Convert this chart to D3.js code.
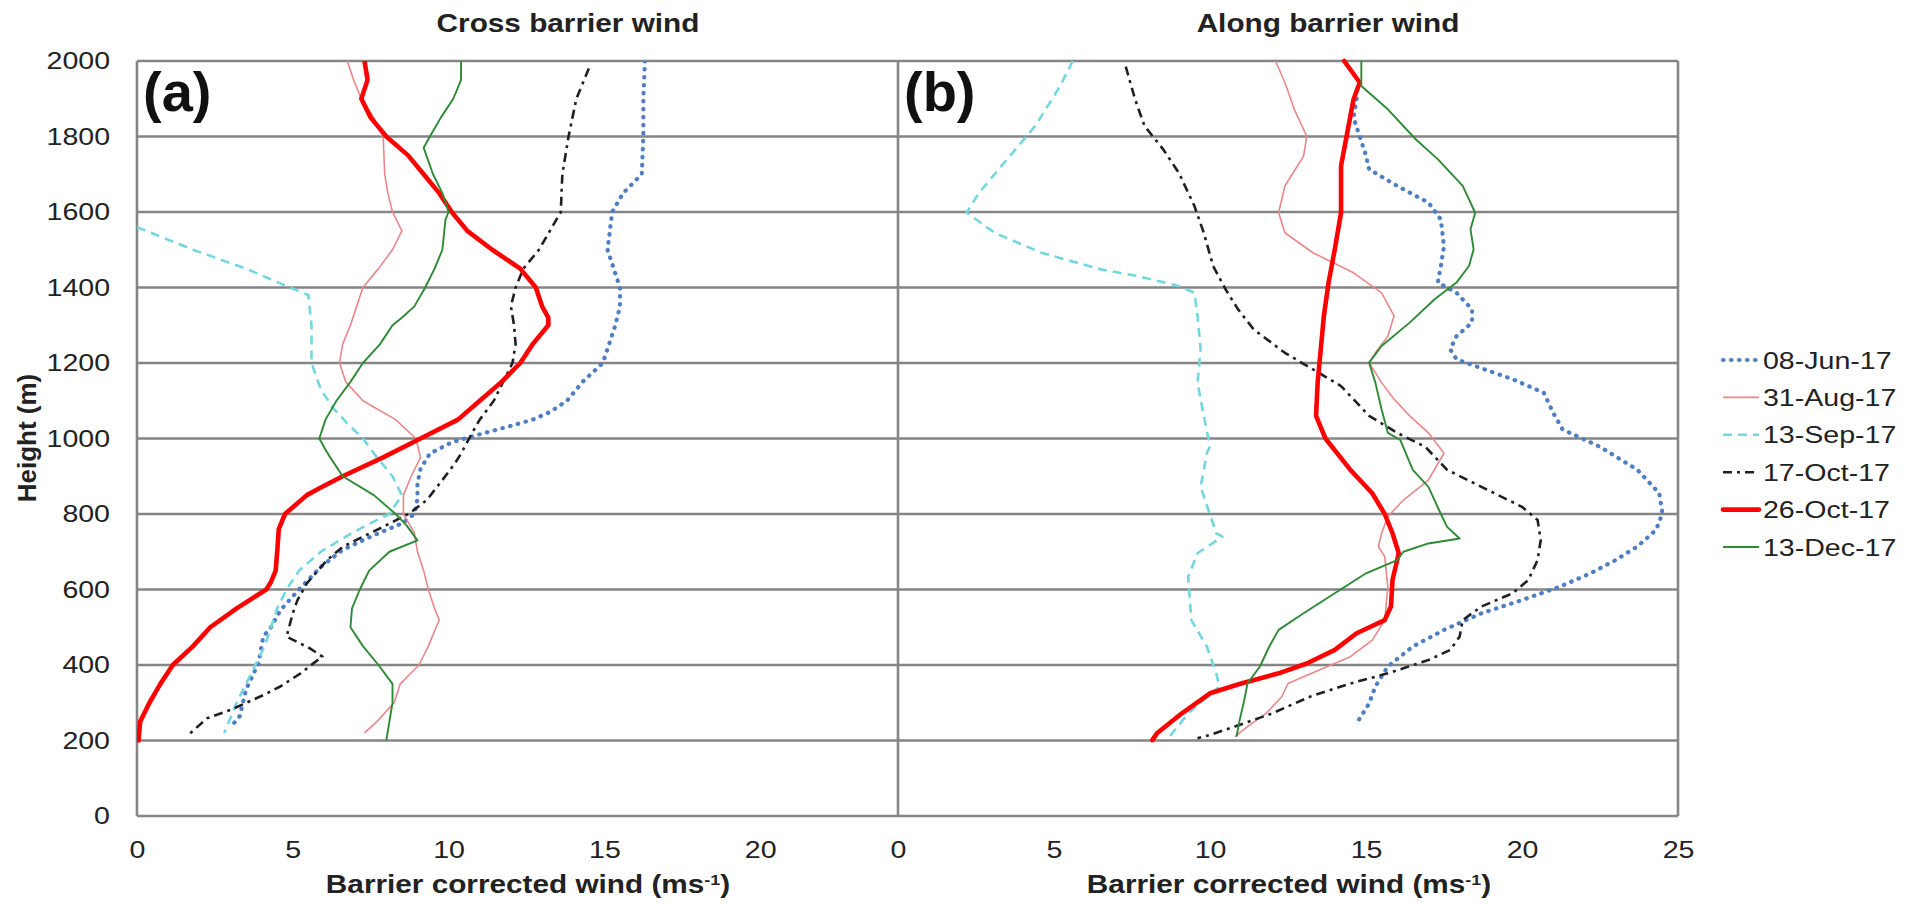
<!DOCTYPE html>
<html>
<head>
<meta charset="utf-8">
<script src="https://cdn.jsdelivr.net/npm/d3@7"></script>
<style>
  html, body { margin: 0; padding: 0; background: #fff; }
  svg { display: block; font-family: "Liberation Sans", Arial, sans-serif; }
</style>
</head>
<body>
<svg id="chart" width="1923" height="904"></svg>
<script>
// series names, in legend order
const seriesNames = ['08-Jun-17', '31-Aug-17', '13-Sep-17', '17-Oct-17', '26-Oct-17', '13-Dec-17'];
const panelTitles = ['Cross barrier wind', 'Along barrier wind'];
const panelLetters = ['(a)', '(b)'];
const heightTicks = [0, 200, 400, 600, 800, 1000, 1200, 1400, 1600, 1800, 2000];
const windTicksA = [0, 5, 10, 15, 20];
const windTicksB = [0, 5, 10, 15, 20, 25];

// (a) cross barrier wind, [wind ms-1, height m]
const crossJun08 = [[16.3,2000],[16.25,1900],[16.25,1800],[16.2,1700],[15.6,1650],[15.25,1600],[15.1,1500],[15.5,1400],[15.5,1350],[15.35,1300],[15.15,1250],[14.95,1200],[14.3,1150],[13.8,1100],[13.25,1070],[12.7,1050],[11.85,1030],[10.95,1010],[10.1,990],[9.4,960],[9.1,920],[9.0,880],[9.0,840],[8.9,800],[8.5,775],[7.5,740],[6.6,705],[5.9,660],[5.2,600],[4.6,545],[4.3,500],[4.05,475],[3.9,405],[3.5,335],[3.3,265],[3.1,245]];
const crossAug31 = [[6.75,2000],[6.95,1950],[7.2,1900],[7.6,1850],[7.9,1800],[7.95,1700],[8.05,1650],[8.2,1600],[8.5,1550],[8.2,1500],[7.75,1450],[7.25,1400],[7.05,1350],[6.85,1300],[6.6,1250],[6.5,1200],[6.7,1150],[7.25,1100],[8.3,1050],[8.95,1000],[9.1,950],[8.8,900],[8.55,850],[8.55,800],[8.9,750],[9.0,700],[9.2,650],[9.35,600],[9.55,550],[9.7,520],[9.6,500],[9.35,450],[9.05,400],[8.45,350],[8.25,300],[7.7,250],[7.3,220]];
const crossSep13 = [[0,1560],[1.8,1500],[3.5,1450],[4.9,1400],[5.5,1380],[5.6,1300],[5.6,1200],[5.9,1130],[6.3,1080],[6.75,1040],[7.25,1000],[7.7,950],[8.2,900],[8.5,850],[8.1,800],[7.6,780],[6.9,750],[5.9,700],[5.2,650],[4.8,600],[4.5,550],[4.3,500],[4.1,450],[3.8,400],[3.5,350],[3.2,300],[2.95,250],[2.8,220]];
const crossOct17 = [[14.5,1980],[14.1,1900],[13.85,1800],[13.65,1700],[13.6,1600],[13.25,1550],[12.9,1500],[12.4,1450],[12.15,1400],[12.0,1350],[12.1,1300],[12.15,1250],[12.05,1200],[11.75,1150],[11.45,1100],[11.0,1050],[10.75,1014],[10.4,960],[10.2,934],[9.8,890],[9.3,837],[8.75,802],[7.9,766],[7.25,740],[6.6,713],[6.1,678],[5.45,616],[5.15,572],[5.0,537],[4.8,475],[5.55,444],[5.95,422],[5.8,413],[5.25,378],[4.6,343],[4.05,320],[3.0,281],[2.25,259],[1.65,215]];
const crossOct26 = [[7.3,2000],[7.4,1950],[7.2,1900],[7.5,1850],[8.0,1800],[8.7,1750],[9.2,1700],[9.7,1650],[10.1,1600],[10.6,1550],[11.4,1500],[12.3,1450],[12.8,1400],[13.0,1350],[13.2,1320],[13.2,1300],[12.7,1250],[12.3,1200],[11.7,1150],[11.0,1100],[10.3,1050],[9.1,1000],[7.9,950],[6.6,900],[5.9,870],[5.45,850],[4.75,800],[4.55,760],[4.5,700],[4.45,650],[4.3,620],[4.15,600],[3.2,550],[2.35,500],[1.8,450],[1.15,400],[0.75,350],[0.4,300],[0.1,250],[0.05,200]];
const crossDec13 = [[10.4,2000],[10.4,1950],[10.15,1900],[9.75,1850],[9.4,1800],[9.2,1770],[9.5,1700],[9.8,1650],[10.0,1600],[9.9,1580],[9.8,1500],[9.55,1450],[9.25,1400],[8.9,1350],[8.5,1320],[8.2,1300],[7.8,1250],[7.25,1200],[6.85,1150],[6.4,1100],[6.05,1050],[5.85,1000],[6.05,970],[6.2,950],[6.6,900],[7.6,850],[8.3,800],[8.65,770],[9.0,730],[8.1,700],[7.45,650],[7.15,600],[6.9,550],[6.85,500],[7.25,450],[7.75,400],[8.2,350],[8.2,300],[8.1,250],[8.0,200]];

// (b) along barrier wind, [wind ms-1, height m]
const alongJun08 = [[14.7,1900],[14.6,1850],[14.8,1800],[15.0,1750],[15.1,1713],[16.0,1669],[17.0,1625],[17.4,1580],[17.5,1510],[17.4,1457],[17.3,1413],[17.9,1386],[18.4,1342],[18.4,1307],[17.9,1271],[17.7,1236],[17.9,1210],[18.8,1183],[19.7,1157],[20.7,1121],[21.0,1068],[21.3,1024],[22.5,978],[23.7,917],[24.4,855],[24.5,802],[24.3,758],[23.7,714],[23.0,678],[22.2,643],[21.2,607],[20.0,572],[18.7,537],[17.5,493],[16.5,449],[15.7,396],[15.3,343],[15.1,298],[14.7,245]];
const alongAug31 = [[12.1,2000],[12.4,1943],[12.7,1872],[13.1,1801],[13.0,1748],[12.4,1669],[12.2,1598],[12.4,1545],[13.3,1492],[14.6,1439],[15.5,1386],[15.9,1325],[15.7,1271],[15.3,1227],[15.1,1201],[15.5,1148],[15.9,1104],[16.4,1060],[17.0,1015],[17.5,961],[17.0,890],[16.2,837],[15.7,793],[15.5,749],[15.4,714],[15.6,687],[15.7,607],[15.6,519],[15.2,466],[14.5,422],[13.5,387],[12.5,351],[12.3,316],[11.8,272],[11.2,237],[10.8,210]];
const alongSep13 = [[5.6,2000],[5.2,1934],[4.4,1828],[3.5,1740],[2.6,1651],[2.2,1598],[3.1,1545],[4.6,1492],[6.5,1448],[7.7,1430],[9.0,1404],[9.5,1386],[9.6,1325],[9.7,1236],[9.6,1148],[9.8,1060],[10.0,980],[9.9,961],[9.7,872],[10.2,749],[10.4,740],[9.6,696],[9.3,634],[9.4,519],[9.9,449],[10.2,378],[10.3,343],[9.3,272],[8.7,210]];
const alongOct17 = [[7.3,1985],[7.6,1898],[7.9,1828],[8.5,1766],[9.0,1704],[9.5,1616],[9.8,1545],[10.1,1457],[10.5,1395],[10.9,1342],[11.4,1289],[12.4,1227],[13.3,1183],[14.2,1139],[15.1,1060],[16.0,1015],[16.9,978],[17.6,917],[18.7,872],[20.0,819],[20.5,784],[20.6,731],[20.5,678],[20.2,625],[19.7,590],[18.7,555],[18.1,519],[18.0,475],[17.7,440],[17.0,413],[15.7,378],[14.5,351],[13.2,316],[12.0,272],[10.8,237],[10.0,215],[9.6,206]];
const alongOct26 = [[14.3,2000],[14.8,1943],[14.6,1898],[14.4,1810],[14.2,1722],[14.2,1598],[14.0,1501],[13.8,1413],[13.65,1325],[13.55,1236],[13.45,1148],[13.4,1060],[13.7,1000],[14.5,917],[15.2,855],[15.6,800],[15.85,749],[16.05,696],[15.85,625],[15.8,555],[15.6,519],[14.7,484],[14.0,440],[13.1,404],[12.2,378],[11.0,351],[10.0,325],[9.1,272],[8.3,219],[8.15,201]];
const alongDec13 = [[14.85,2000],[14.85,1934],[15.7,1872],[16.6,1792],[17.3,1740],[18.1,1669],[18.5,1598],[18.35,1554],[18.45,1501],[18.3,1457],[17.9,1413],[17.2,1369],[16.4,1307],[15.5,1245],[15.1,1201],[15.3,1148],[15.5,1077],[15.7,1015],[16.1,996],[16.5,917],[17.0,872],[17.4,800],[17.6,766],[18.0,735],[17.0,722],[16.2,700],[16.0,678],[15.0,643],[14.0,590],[13.0,537],[12.2,493],[11.9,449],[11.6,396],[11.2,351],[11.1,307],[10.95,254],[10.85,210]];

const crossSeries = [crossJun08, crossAug31, crossSep13, crossOct17, crossOct26, crossDec13];
const alongSeries = [alongJun08, alongAug31, alongSep13, alongOct17, alongOct26, alongDec13];

// look of each series (legend order)
const lineStyles = [
  {color: '#4f7fc2', width: 4.2, dash: '0.5,7.5', cap: 'round'},
  {color: '#e9878c', width: 1.6, dash: null, cap: 'butt'},
  {color: '#74d6de', width: 2.6, dash: '9,6', cap: 'butt'},
  {color: '#1f1f26', width: 2.6, dash: '9,5,3,5', cap: 'butt'},
  {color: '#ff0000', width: 4.6, dash: null, cap: 'round'},
  {color: '#2e8a36', width: 1.9, dash: null, cap: 'butt'}
];

const SX = 1.19;   // the source picture is stretched sideways
const GRID = '#858585';

const svg = d3.select('#chart');

const y = d3.scaleLinear().domain([0, 2000]).range([816, 61]);
const xA = d3.scaleLinear().domain([0, 25]).range([137, 916]);
const xB = d3.scaleLinear().domain([0, 25]).range([898, 1678]);

const aRight = xB(0);

svg.append('defs').append('clipPath').attr('id', 'clipA')
  .append('rect')
  .attr('x', xA(0)).attr('y', y(2000))
  .attr('width', aRight - xA(0)).attr('height', y(0) - y(2000));

function stretchText(parent, x, yy, txt) {
  return parent.append('text')
    .attr('transform', 'translate(' + x + ',' + yy + ') scale(' + SX + ',1)')
    .text(txt);
}

function panel(x, x0, x1, ticks, data, title, letter, titleX, labelX, clip) {
  const g = svg.append('g');

  // horizontal grid lines
  g.selectAll('line.grid').data(heightTicks).enter().append('line')
    .attr('class', 'grid')
    .attr('x1', x0).attr('x2', x1)
    .attr('y1', (d) => y(d)).attr('y2', (d) => y(d))
    .attr('stroke', GRID).attr('stroke-width', 2.6);

  // left border
  g.append('line')
    .attr('x1', x0).attr('x2', x0)
    .attr('y1', y(0)).attr('y2', y(2000))
    .attr('stroke', GRID).attr('stroke-width', 2.6);

  // x axis labels
  const ax = g.append('g')
    .attr('transform', 'translate(0,' + y(0) + ')')
    .call(d3.axisBottom(x).tickValues(ticks).tickSize(0).tickFormat(d3.format('d')));
  ax.select('.domain').remove();
  ax.selectAll('text')
    .attr('y', 0).attr('dy', '0.71em')
    .attr('transform', 'translate(0,25) scale(' + SX + ',1)')
    .attr('fill', '#222').attr('font-size', 24);

  // profiles
  const line = d3.line().x((d) => x(d[0])).y((d) => y(d[1]));
  const lg = g.append('g');
  if (clip) lg.attr('clip-path', 'url(#' + clip + ')');
  lg.selectAll('path.profile').data(data).enter().append('path')
    .attr('class', 'profile')
    .attr('d', (d) => line(d))
    .attr('fill', 'none')
    .attr('stroke', (d, i) => lineStyles[i].color)
    .attr('stroke-width', (d, i) => lineStyles[i].width)
    .attr('stroke-dasharray', (d, i) => lineStyles[i].dash)
    .attr('stroke-linecap', (d, i) => lineStyles[i].cap)
    .attr('stroke-linejoin', 'round');

  // panel letter
  g.append('text')
    .attr('x', x0 + 6).attr('y', 111)
    .attr('font-size', 56).attr('font-weight', 'bold').attr('fill', '#111')
    .text(letter);

  // title
  stretchText(g, titleX, 32, title)
    .attr('text-anchor', 'middle')
    .attr('font-size', 25).attr('font-weight', 'bold').attr('fill', '#222');

  // x axis title
  const xt = stretchText(g, labelX, 893, 'Barrier corrected wind (ms')
    .attr('text-anchor', 'middle')
    .attr('font-size', 25).attr('font-weight', 'bold').attr('fill', '#222');
  xt.append('tspan').attr('baseline-shift', 'super').attr('font-size', 15).text('-1');
  xt.append('tspan').text(')');

  return g;
}

panel(xA, xA(0), aRight, windTicksA, crossSeries, panelTitles[0], panelLetters[0], 568, 528, 'clipA');
const gb = panel(xB, xB(0), xB(25), windTicksB, alongSeries, panelTitles[1], panelLetters[1], 1328, 1289, null);

// right border of panel b
gb.append('line')
  .attr('x1', xB(25)).attr('x2', xB(25))
  .attr('y1', y(0)).attr('y2', y(2000))
  .attr('stroke', GRID).attr('stroke-width', 2.6);

// height axis
const ay = svg.append('g')
  .attr('transform', 'translate(' + xA(0) + ',0)')
  .call(d3.axisLeft(y).tickValues(heightTicks).tickSize(0).tickFormat(d3.format('d')));
ay.select('.domain').remove();
ay.selectAll('text')
  .attr('x', 0)
  .attr('transform', 'translate(-27,0) scale(' + SX + ',1)')
  .attr('fill', '#222').attr('font-size', 24);

svg.append('text')
  .attr('transform', 'translate(36,438) rotate(-90)')
  .attr('text-anchor', 'middle')
  .attr('font-size', 26).attr('font-weight', 'bold').attr('fill', '#222')
  .text('Height (m)');

// legend
const legend = svg.append('g').attr('transform', 'translate(1723,360)');
const rows = legend.selectAll('g.row').data(seriesNames).enter().append('g')
  .attr('class', 'row')
  .attr('transform', (d, i) => 'translate(0,' + (i * 37.4) + ')');
rows.append('line')
  .attr('x1', 0).attr('x2', 36).attr('y1', 0).attr('y2', 0)
  .attr('stroke', (d, i) => lineStyles[i].color)
  .attr('stroke-width', (d, i) => lineStyles[i].width)
  .attr('stroke-dasharray', (d, i) => lineStyles[i].dash)
  .attr('stroke-linecap', (d, i) => lineStyles[i].cap);
rows.each(function (d) {
  stretchText(d3.select(this), 40, 8.5, d)
    .attr('font-size', 24).attr('fill', '#222');
});
</script>
</body>
</html>
